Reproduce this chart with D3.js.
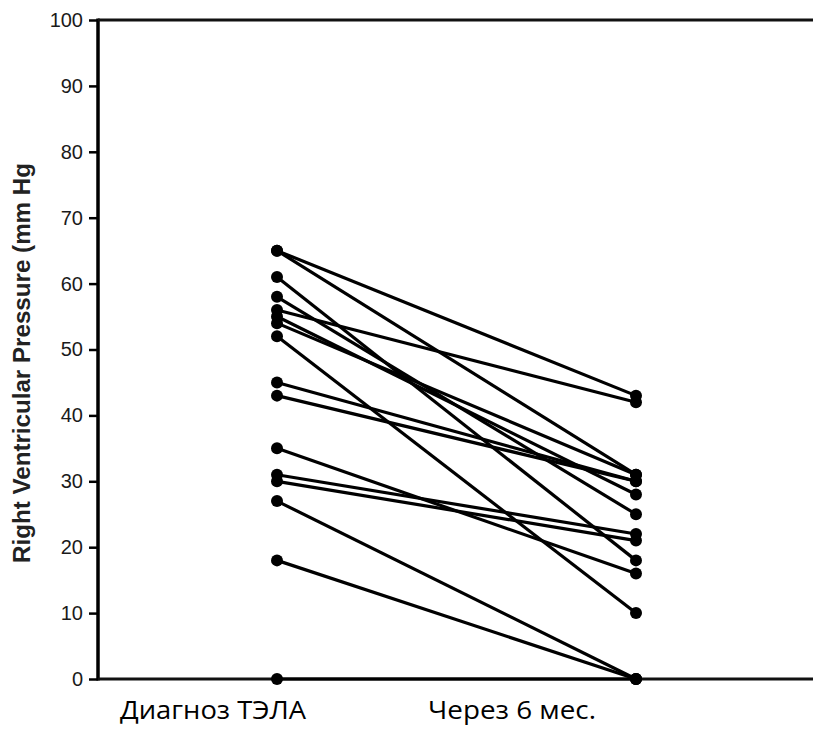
<!DOCTYPE html>
<html>
<head>
<meta charset="utf-8">
<script src="https://cdn.jsdelivr.net/npm/d3@7"></script>
<style>
  body { margin: 0; background: #fff; }
  svg { display: block; }
</style>
</head>
<body>
<svg id="chart" width="813" height="730"></svg>
<script>
// paired values, one subject per index
var before = [65, 65, 61, 58, 56, 55, 54, 52, 45, 43, 35, 31, 30, 27, 18, 0];
var after = [43, 31, 18, 25, 42, 28, 31, 10, 30, 30, 16, 22, 21, 0, 0, 0];
var categories = ["Диагноз ТЭЛА", "Через 6 мес."];
var yTicks = [0, 10, 20, 30, 40, 50, 60, 70, 80, 90, 100];
var yTitle = "Right Ventricular Pressure (mm Hg";

var svg = d3.select("#chart");

var x = d3.scaleLinear().domain([0, 1]).range([277, 636]);
var y = d3.scaleLinear().domain([0, 100]).range([679, 20]);

var pairs = before.map(function(d, i) { return { pre: d, post: after[i] }; });

// y axis
var yAxis = svg.append("g")
    .attr("transform", "translate(98,0)")
    .call(d3.axisLeft(y).tickValues(yTicks).tickSize(9).tickPadding(6));
yAxis.select(".domain").remove();
yAxis.selectAll(".tick line").attr("stroke", "#000").attr("stroke-width", 2.5);
yAxis.selectAll(".tick text")
    .attr("fill", "#1a1a1a")
    .style("font-family", "'Liberation Sans', Arial, sans-serif")
    .style("font-size", "20px");

// frame lines: left, top, bottom
svg.append("line").attr("x1", 98).attr("x2", 98).attr("y1", y(100) - 1.5).attr("y2", y(0) + 1.5)
    .attr("stroke", "#000").attr("stroke-width", 3.5);
svg.append("line").attr("x1", 98).attr("x2", 813).attr("y1", y(100)).attr("y2", y(100))
    .attr("stroke", "#111").attr("stroke-width", 3);
svg.append("line").attr("x1", 98).attr("x2", 813).attr("y1", y(0)).attr("y2", y(0))
    .attr("stroke", "#111").attr("stroke-width", 3);

// lines
svg.append("g").selectAll("line")
    .data(pairs)
    .enter().append("line")
    .attr("x1", x(0))
    .attr("y1", function(d) { return y(d.pre); })
    .attr("x2", x(1))
    .attr("y2", function(d) { return y(d.post); })
    .attr("stroke", "#000")
    .attr("stroke-width", 3.2);

// dots
var dots = svg.append("g");
dots.selectAll(".pre")
    .data(before)
    .enter().append("circle")
    .attr("class", "pre")
    .attr("cx", x(0))
    .attr("cy", function(d) { return y(d); })
    .attr("r", 6)
    .attr("fill", "#000");
dots.selectAll(".post")
    .data(after)
    .enter().append("circle")
    .attr("class", "post")
    .attr("cx", x(1))
    .attr("cy", function(d) { return y(d); })
    .attr("r", 6)
    .attr("fill", "#000");

// y title
svg.append("text")
    .attr("transform", "translate(30,363) rotate(-90)")
    .attr("text-anchor", "middle")
    .attr("textLength", 400)
    .attr("lengthAdjust", "spacingAndGlyphs")
    .style("font-family", "'Liberation Sans', Arial, sans-serif")
    .style("font-weight", "bold")
    .style("font-size", "24px")
    .attr("fill", "#222")
    .text(yTitle);

// category labels under the axis
var labelX = [120, 428];
var labelW = [186, 168];
svg.selectAll(".cat")
    .data(categories)
    .enter().append("text")
    .attr("class", "cat")
    .attr("x", function(d, i) { return labelX[i]; })
    .attr("y", 719)
    .attr("textLength", function(d, i) { return labelW[i]; })
    .attr("lengthAdjust", "spacingAndGlyphs")
    .style("font-family", "'Open Sans', 'Noto Sans', sans-serif")
    .style("font-size", "25px")
    .attr("fill", "#000")
    .text(function(d) { return d; });
</script>
</body>
</html>
